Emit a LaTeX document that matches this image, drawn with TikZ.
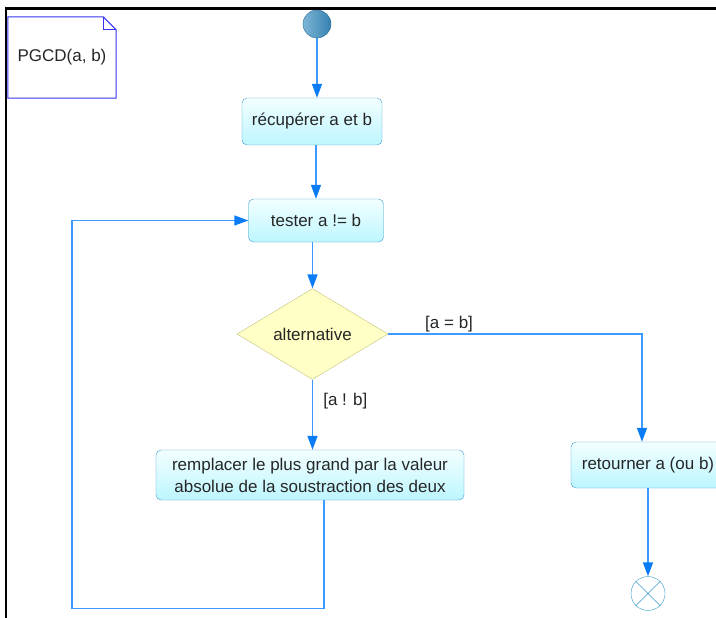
\documentclass[tikz,border=0pt]{standalone}
\usepackage{fontspec}
\setmainfont{Liberation Sans}
\usepackage{tikz}
\usetikzlibrary{arrows.meta,shapes.geometric}
\definecolor{UMLbleu}{HTML}{3D9BFF}
\definecolor{UMLpointe}{HTML}{0A7CF5}
\definecolor{UMLbord}{HTML}{3A9BCB}
\definecolor{UMLcielHaut}{HTML}{F2FFFF}
\definecolor{UMLcielBas}{HTML}{BDF6FF}
\definecolor{UMLjaune}{HTML}{FFFFC6}
\definecolor{UMLkaki}{HTML}{C2C27A}
\definecolor{UMLnote}{HTML}{3434F0}
\definecolor{UMLdebutClair}{HTML}{7DB6D6}
\definecolor{UMLdebutFonce}{HTML}{3580B0}

\begin{document}
\begin{tikzpicture}[
      x=1pt, y=-1pt,
      etiq/.style={font=\fontsize{17}{22}\selectfont, text=black!85, inner sep=1pt},
      boite/.style={rectangle, rounded corners=5pt, draw=UMLbord, top color=UMLcielHaut,
                    bottom color=UMLcielBas, align=center, etiq, inner sep=0pt},
      losange/.style={diamond, draw=UMLkaki, fill=UMLjaune, etiq,
                      minimum width=151pt, minimum height=90pt, inner sep=0pt},
      lien/.style={draw=UMLbleu, line width=1.6pt},
      fleche/.style={lien, -{Triangle[length=14pt, width=10pt, color=UMLpointe]}},
      noteTrait/.style={draw=UMLnote, line width=1pt},
      cadre/.style={draw=black, line width=2.5pt}
    ]
    \useasboundingbox (0,0) rectangle (716,618);
    \clip (0,0) rectangle (716,618);
    \draw[cadre] (6,618) -- (6,8.7) -- (716,8.7);

    % note
    \node[etiq, inner sep=0pt, minimum width=108pt, minimum height=81pt] (pgcd) at (62,57.5) {PGCD(a, b)};
    \draw[noteTrait] (pgcd.south west) -- (pgcd.north west) -- ([xshift=-13pt]pgcd.north east)
      -- ([yshift=-13pt]pgcd.north east) -- (pgcd.south east) -- cycle;
    \draw[noteTrait] ([xshift=-13pt]pgcd.north east) |- ([yshift=-13pt]pgcd.north east);

    % activites
    \node[circle, draw=UMLdebutFonce!80!black, left color=UMLdebutClair, right color=UMLdebutFonce,
          minimum size=28pt, inner sep=0pt] (debut) at (317,24) {};
    \node[boite, minimum width=140pt, minimum height=47pt] (recup) at (312,121.5) {récupérer a et b};
    \node[boite, minimum width=135pt, minimum height=43pt] (tester) at (316,220.5) {tester a != b};
    \node[losange] (alt) at (312.5,334) {alternative};
    \node[boite, minimum width=308pt, minimum height=50pt] (rempl) at (310,475)
      {remplacer le plus grand par la valeur\\ absolue de la soustraction des deux};
    \node[boite, minimum width=154pt, minimum height=46pt] (retour) at (648,465) {retourner a (ou b)};
    \node[circle, draw=UMLbord, fill=white, minimum size=34pt, inner sep=0pt] (fin) at (648,593.5) {};
    \draw[draw=UMLbord] (fin.45) -- (fin.225) (fin.135) -- (fin.315);

    % transitions
    \coordinate (coin) at (72,608.5);
    \draw[fleche] (debut.south) -- (debut.south |- recup.north);
    \draw[fleche] (tester.north |- recup.south) -- (tester.north);
    \draw[fleche] (tester.south -| alt.north) -- (alt.north);
    \draw[fleche] (alt.east) -| node[etiq, pos=0.12, above] {[a = b]} ([xshift=-6pt]retour.north);
    \draw[fleche] (alt.south) -- node[etiq, pos=0.31, right, xshift=9pt] {[a ! b]} (alt.south |- rempl.north);
    \draw[fleche] (retour.south -| fin.north) -- (fin.north);
    \draw[fleche] ([xshift=14pt]rempl.south) |- (coin) |- (tester.west);
  \end{tikzpicture}
\end{document}
